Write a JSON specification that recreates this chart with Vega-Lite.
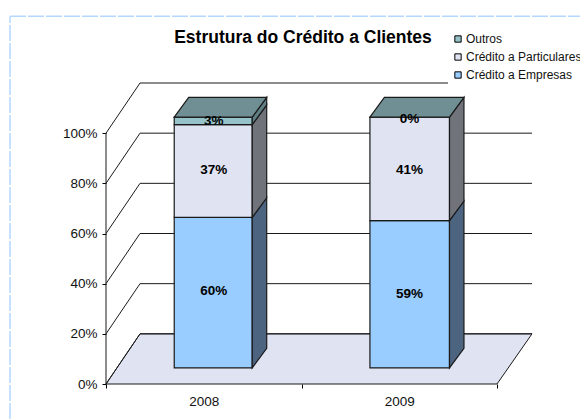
{"$schema":"https://vega.github.io/schema/vega-lite/v6.json","width":426,"height":301,"autosize":{"type":"none"},"padding":{"left":106,"top":83,"right":48,"bottom":35},"background":"white","config":{"view":{"stroke":null},"font":"Liberation Sans"},
"title":{"text":"Estrutura do Crédito a Clientes","font":"Liberation Sans","fontSize":17.5,"fontWeight":"bold","color":"#000","anchor":"middle","dx":-16,"offset":-33},
"datasets":{
"moldura":[{"linha":"v","x":-0.491,"y":-14},{"linha":"v","x":-0.491,"y":146.6},{"linha":"h","x":-0.491,"y":146.6},{"linha":"h","x":2.424,"y":146.6}],
"piso":[{"x":0,"y":0,"base":0},{"x":0.174,"y":20,"base":0},{"x":2,"y":20,"base":0},{"x":2.179,"y":20,"base":20}],
"grade":[
{"linha":"eixo","x":0,"y":0},{"linha":"eixo","x":0,"y":100},
{"linha":"p0","x":0,"y":0},{"linha":"p0","x":0.174,"y":20},
{"linha":"p20","x":0,"y":20},{"linha":"p20","x":0.174,"y":40},
{"linha":"p40","x":0,"y":40},{"linha":"p40","x":0.174,"y":60},
{"linha":"p60","x":0,"y":60},{"linha":"p60","x":0.174,"y":80},
{"linha":"p80","x":0,"y":80},{"linha":"p80","x":0.174,"y":100},
{"linha":"p100","x":0,"y":100},{"linha":"p100","x":0.174,"y":120},
{"linha":"f0","x":0.174,"y":20},{"linha":"f0","x":2.179,"y":20},
{"linha":"f20","x":0.174,"y":40},{"linha":"f20","x":2.179,"y":40},
{"linha":"f40","x":0.174,"y":60},{"linha":"f40","x":2.179,"y":60},
{"linha":"f60","x":0.174,"y":80},{"linha":"f60","x":2.179,"y":80},
{"linha":"f80","x":0.174,"y":100},{"linha":"f80","x":2.179,"y":100},
{"linha":"f100","x":0.174,"y":120},{"linha":"f100","x":2.179,"y":120}],
"faces":[
{"face":"a1","parte":"Crédito a Empresas","x":0.349,"y":66.4,"base":6.4},{"face":"a1","parte":"Crédito a Empresas","x":0.748,"y":66.4,"base":6.4},
{"face":"a2","parte":"Crédito a Particulares","x":0.349,"y":103.4,"base":66.4},{"face":"a2","parte":"Crédito a Particulares","x":0.748,"y":103.4,"base":66.4},
{"face":"a3","parte":"Outros","x":0.349,"y":106.4,"base":103.4},{"face":"a3","parte":"Outros","x":0.748,"y":106.4,"base":103.4},
{"face":"a4","parte":"Empresas lateral","x":0.748,"y":66.4,"base":6.4},{"face":"a4","parte":"Empresas lateral","x":0.822,"y":74.25,"base":14.25},
{"face":"a5","parte":"Particulares lateral","x":0.748,"y":103.4,"base":66.4},{"face":"a5","parte":"Particulares lateral","x":0.822,"y":111.25,"base":74.25},
{"face":"a6","parte":"Outros lateral","x":0.748,"y":106.4,"base":103.4},{"face":"a6","parte":"Outros lateral","x":0.822,"y":114.25,"base":111.25},
{"face":"a7","parte":"Outros topo","x":0.349,"y":106.4,"base":106.4},{"face":"a7","parte":"Outros topo","x":0.423,"y":114.25,"base":106.4},{"face":"a7","parte":"Outros topo","x":0.748,"y":114.25,"base":106.4},{"face":"a7","parte":"Outros topo","x":0.822,"y":114.25,"base":114.25},
{"face":"b1","parte":"Crédito a Empresas","x":1.35,"y":65.1,"base":6.4},{"face":"b1","parte":"Crédito a Empresas","x":1.757,"y":65.1,"base":6.4},
{"face":"b2","parte":"Crédito a Particulares","x":1.35,"y":106.4,"base":65.1},{"face":"b2","parte":"Crédito a Particulares","x":1.757,"y":106.4,"base":65.1},
{"face":"b4","parte":"Empresas lateral","x":1.757,"y":65.1,"base":6.4},{"face":"b4","parte":"Empresas lateral","x":1.831,"y":72.95,"base":14.25},
{"face":"b5","parte":"Particulares lateral","x":1.757,"y":106.4,"base":65.1},{"face":"b5","parte":"Particulares lateral","x":1.831,"y":114.25,"base":72.95},
{"face":"b7","parte":"Outros topo","x":1.35,"y":106.4,"base":106.4},{"face":"b7","parte":"Outros topo","x":1.424,"y":114.25,"base":106.4},{"face":"b7","parte":"Outros topo","x":1.757,"y":114.25,"base":106.4},{"face":"b7","parte":"Outros topo","x":1.831,"y":114.25,"base":114.25}],
"rotulos":[
{"ano":2008,"serie":"Crédito a Empresas","rotulo":"60%","x":0.551,"y":36.9},
{"ano":2008,"serie":"Crédito a Particulares","rotulo":"37%","x":0.551,"y":85.5},
{"ano":2008,"serie":"Outros","rotulo":"3%","x":0.551,"y":105},
{"ano":2009,"serie":"Crédito a Empresas","rotulo":"59%","x":1.553,"y":36},
{"ano":2009,"serie":"Crédito a Particulares","rotulo":"41%","x":1.553,"y":85.3},
{"ano":2009,"serie":"Outros","rotulo":"0%","x":1.553,"y":105.7}]
},
"encoding":{
"x":{"field":"x","type":"quantitative","scale":{"domain":[0,2.179],"nice":false,"zero":false},"axis":{"title":null,"grid":false,"domain":false,"values":[0,0.5,1,1.5,2],"labelExpr":"datum.value==0.5?'2008':datum.value==1.5?'2009':''","tickOpacity":{"condition":{"test":"datum.value==0.5||datum.value==1.5","value":0},"value":1},"tickColor":"#000","tickSize":4,"labelFont":"Liberation Sans","labelFontSize":13.5,"labelColor":"#111","labelPadding":6,"labelOverlap":false,"labelFlush":false}},
"y":{"field":"y","type":"quantitative","scale":{"domain":[0,120],"nice":false,"zero":false},"axis":{"title":null,"grid":false,"domain":false,"values":[0,20,40,60,80,100],"labelExpr":"datum.value+'%'","tickColor":"#000","tickSize":4,"labelFont":"Liberation Sans","labelFontSize":13.5,"labelColor":"#111","labelPadding":5,"labelOverlap":false}}
},
"layer":[
{"data":{"name":"moldura"},"mark":{"type":"line","stroke":"#B5D8FF","strokeWidth":1.5,"strokeDash":[16,2]},"encoding":{"detail":{"field":"linha"}}},
{"data":{"name":"piso"},"mark":{"type":"area","fill":"#DFE3F2","stroke":"#1a1a1a","strokeWidth":1},"encoding":{"y2":{"field":"base"}}},
{"data":{"name":"grade"},"mark":{"type":"line","stroke":"#1a1a1a","strokeWidth":1},"encoding":{"detail":{"field":"linha"}}},
{"data":{"name":"faces"},"mark":{"type":"area","stroke":"#1a1a1a","strokeWidth":1.2},"encoding":{"y2":{"field":"base"},"detail":{"field":"face"},"color":{"field":"parte","type":"nominal","scale":{"domain":["Outros","Crédito a Particulares","Crédito a Empresas","Outros lateral","Particulares lateral","Empresas lateral","Outros topo"],"range":["#96C3C9","#DFE3F2","#99CCFF","#607F85","#70747A","#4D6480","#6F8F94"]},"legend":{"title":null,"values":["Outros","Crédito a Particulares","Crédito a Empresas"],"orient":"none","legendX":342,"legendY":-54,"fillColor":"white","padding":4,"symbolType":"square","symbolSize":40,"symbolStrokeColor":"#000","symbolStrokeWidth":1,"labelFont":"Liberation Sans","labelFontSize":12,"labelColor":"#111","labelLimit":200,"labelOffset":2,"rowPadding":6,"symbolOffset":0}}}},
{"data":{"name":"rotulos"},"mark":{"type":"text","font":"Liberation Sans","fontWeight":"bold","fontSize":13.5,"color":"#000","baseline":"middle","align":"center"},"encoding":{"text":{"field":"rotulo"}}}
]}
